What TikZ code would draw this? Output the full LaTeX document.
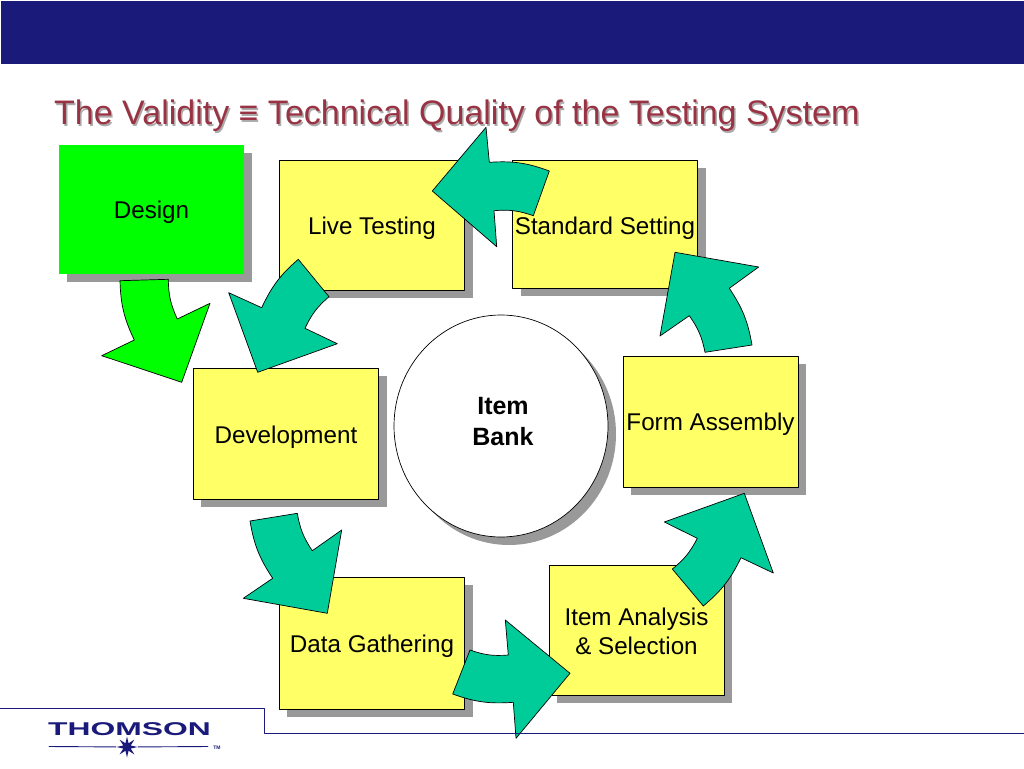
\documentclass[tikz,border=0pt]{standalone}
\usepackage{fontspec}
\setmainfont{Liberation Sans}
\usetikzlibrary{shapes.geometric}
\usetikzlibrary{shadows}
\definecolor{navyb}{HTML}{1A1A7A}
\definecolor{titlered}{HTML}{993344}
\definecolor{titleshadeg}{HTML}{ABABAB}
\definecolor{ffff66}{HTML}{FFFF66}
\definecolor{qqffqq}{HTML}{00FF00}
\definecolor{qqcc99}{HTML}{00CC99}
\definecolor{shadeg}{HTML}{999999}
\tikzset{
  stepbox/.style={rectangle,draw=black,line width=0.7pt,fill=ffff66,inner sep=0pt,align=center,
    font=\fontsize{24.2}{29}\selectfont,text height=17pt,text depth=0pt,
    drop shadow={shadow xshift=8pt,shadow yshift=-8pt,fill=shadeg,opacity=1}},
  blockarrow/.style={draw=black,line width=0.7pt,fill=qqcc99},
  titletext/.style={anchor=west,inner sep=0pt,font=\fontsize{34}{38}\selectfont}
}
\begin{document}
\begin{tikzpicture}[line cap=round,line join=round,x=1.0pt,y=-1.0pt]
  \useasboundingbox (0,0) rectangle (1024,768);
  \fill [navyb] (1,1) rectangle (1024,64);
  \node [titletext,text=titleshadeg] (titleshade) at (55.5,117.5) {The Validity ≡ Technical Quality of the Testing System};
  \node [titletext,text=titlered] (title) at (54,116) {The Validity ≡ Technical Quality of the Testing System};

  \node [stepbox,draw=none,fill=qqffqq,minimum width=185pt,minimum height=129pt] (design) at (151.5,209.5) {Design};
  \node [stepbox,minimum width=185.5pt,minimum height=130pt,text height=19pt] (live) at (372,225) {Live Testing};
  \node [stepbox,minimum width=185pt,minimum height=128pt,text height=20pt] (standard) at (605,224) {Standard Setting};
  \node [stepbox,minimum width=185.5pt,minimum height=131pt,text height=20pt] (development) at (286,433.5) {Development};
  \node [stepbox,minimum width=175pt,minimum height=131pt] (form) at (710.5,421.5) {Form Assembly};
  \node [stepbox,minimum width=185.5pt,minimum height=132pt,text height=19pt] (gathering) at (372,643) {Data Gathering};
  \node [stepbox,minimum width=175pt,minimum height=130pt,text height=49pt] (analysis) at (636.5,630) {Item Analysis\\\& Selection};
  \node [stepbox,ellipse,fill=white,minimum width=214pt,minimum height=222pt,text height=38pt,font=\fontsize{25}{31}\selectfont\bfseries] (bank) at (501,426) {\hspace{4pt}Item\\\hspace{4pt}Bank};

  \draw [blockarrow,fill=qqffqq] (120,280.7) -- (168.3,279.3) to [bend right=12] (177.3,319) -- (210,303.3) -- (181.7,382.3) -- (101.7,355.7) -- (134.3,340) to [bend left=12] (120,280.7) -- cycle;
  \draw [blockarrow] (298.3,259.3) -- (329,296.7) to [bend right=12] (305,328.3) -- (337.3,343.7) -- (257.7,372.3) -- (228.7,292.7) -- (261.7,307.7) to [bend left=12] (298.3,259.3) -- cycle;
  \draw [blockarrow] (549.3,171) -- (533.3,215.7) to [bend right=12] (494,210.7) -- (496.7,246.7) -- (432.3,191) -- (486,127.3) -- (489.3,162.3) to [bend left=12] (549.3,171) -- cycle;
  \draw [blockarrow] (752,345) -- (705,352.3) to [bend right=12] (689.3,315.7) -- (660,336) -- (675,252.3) -- (758.7,267) -- (729.3,288.3) to [bend left=12] (752,345) -- cycle;
  \draw [blockarrow] (250,521) -- (297.3,513.3) to [bend right=12] (312.3,550.7) -- (341.7,530) -- (327.3,613.3) -- (243.3,598.3) -- (272.7,578.3) to [bend left=12] (250,521) -- cycle;
  \draw [blockarrow] (470,650) -- (452.7,694) to [bend right=12] (513.3,702.3) -- (516,738.3) -- (570,673.3) -- (505.3,620) -- (508.3,655) to [bend left=12] (470,650) -- cycle;
  \draw [blockarrow] (703.3,606) -- (672.3,569) to [bend right=12] (697.3,538.3) -- (664.3,522) -- (744.3,493.3) -- (773.3,573) -- (741,557.7) to [bend left=12] (703.3,606) -- cycle;

  \draw [navyb,line width=0.8pt] (0,708) -- (264,708) -- (264,733) -- (1024,733);
  \node [text=navyb,font=\fontsize{18.5}{20}\selectfont\bfseries,xscale=1.72,inner sep=0pt] (thomson) at (129.5,729) {THOMSON};
  \node [star,star points=8,star point ratio=2.6,fill=navyb,minimum size=21pt,inner sep=0pt] (logostar) at (127,747) {};
  \draw [navyb,line width=0.9pt] (49,746.5) -- (logostar) -- (208,746.5);
  \node [text=navyb,font=\fontsize{5}{6}\selectfont\bfseries,inner sep=0pt] (trademark) at (217,748) {TM};
\end{tikzpicture}
\end{document}
